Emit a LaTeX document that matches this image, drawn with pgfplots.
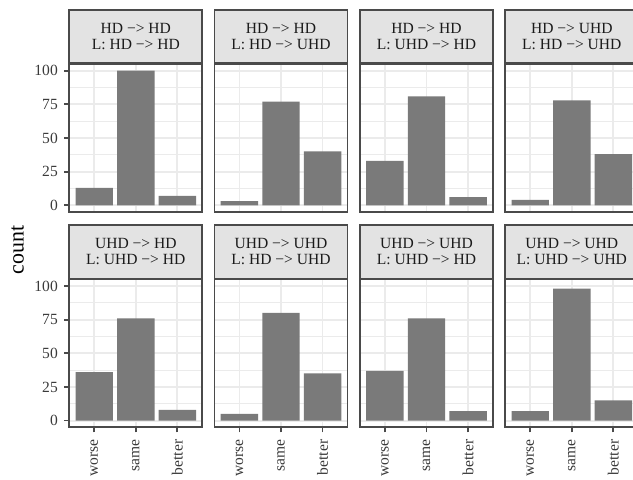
\documentclass[border=0pt]{standalone}
\usepackage{pgfplots}
\pgfplotsset{compat=1.18}
\usepackage{fontspec}
\setmainfont{Liberation Serif}
\definecolor{grey20}{HTML}{4A4A4A}
\definecolor{grey30}{HTML}{3A3A3A}
\definecolor{grey10}{HTML}{1A1A1A}
\definecolor{grey85}{HTML}{E3E3E3}
\definecolor{gridc}{HTML}{EBEBEB}
\definecolor{barc}{HTML}{7A7A7A}
\pgfplotsset{
  facet/.style={
    width=133bp, height=148bp, scale only axis,
    anchor=north west,
    xmin=0.4, xmax=3.6, ymin=-5, ymax=105,
    xtick={1,2,3}, ytick={0,25,50,75,100},
    minor ytick={12.5,37.5,62.5,87.5},
    grid=both,
    major grid style={color=gridc, line width=1.86bp},
    minor grid style={color=gridc, line width=0.93bp},
    axis line style={grey20, line width=1.8bp},
    tick align=outside, major tick length=5bp, minor tick length=0pt,
    tick style={grey20, line width=1.8bp},
    xtick pos=bottom, ytick pos=left,
    xticklabels={}, yticklabels={},
    ybar, bar width=0.9,
    every axis title shift=0pt,
    title style={at={(0.5,1)}, anchor=south, yshift=0pt, draw=grey20, line width=1.8bp,
      fill=grey85, minimum width=133bp, minimum height=53.3bp, inner sep=0pt,
      align=center, text=grey10, font=\fontsize{15.6}{15.8}\selectfont},
    tick label style={font=\fontsize{15.6}{15.8}\selectfont, text=grey30},
  },
  yl/.style={yticklabels={0,25,50,75,100}, yticklabel style={xshift=-3bp}},
  noy/.style={ytick style={draw=none}},
  xl/.style={xticklabels={worse,same,better}, xticklabel style={yshift=-4bp, rotate=90, anchor=east}},
  nox/.style={xtick style={draw=none}},
}
\newcommand{\panel}[6]{%
\begin{axis}[facet, at={(#1bp,-#2bp)}, title={#3\\#4}, #6]
\addplot[fill=barc, draw=none] coordinates {#5};
\end{axis}}
\begin{document}
\begin{tikzpicture}
\useasboundingbox (0,0) rectangle (633bp,-480bp);
\clip (0,0) rectangle (633bp,-480bp);
\panel{69.3}{64}{HD −> HD}{L: HD −> HD}{(1,13) (2,100) (3,7)}{yl,nox}
\panel{214.5}{64}{HD −> HD}{L: HD −> UHD}{(1,3) (2,77) (3,40)}{noy,nox}
\panel{360}{64}{HD −> HD}{L: UHD −> HD}{(1,33) (2,81) (3,6)}{noy,nox}
\panel{505.3}{64}{HD −> UHD}{L: HD −> UHD}{(1,4) (2,78) (3,38)}{noy,nox}
\panel{69.3}{279.3}{UHD −> HD}{L: UHD −> HD}{(1,36) (2,76) (3,8)}{yl,xl}
\panel{214.5}{279.3}{UHD −> UHD}{L: HD −> UHD}{(1,5) (2,80) (3,35)}{noy,xl}
\panel{360}{279.3}{UHD −> UHD}{L: UHD −> HD}{(1,37) (2,76) (3,7)}{noy,xl}
\panel{505.3}{279.3}{UHD −> UHD}{L: UHD −> UHD}{(1,7) (2,98) (3,15)}{noy,xl}
\node[rotate=90, font=\fontsize{22}{23}\selectfont, inner sep=0pt] at (17.5bp,-250bp) {count};
\end{tikzpicture}
\end{document}
